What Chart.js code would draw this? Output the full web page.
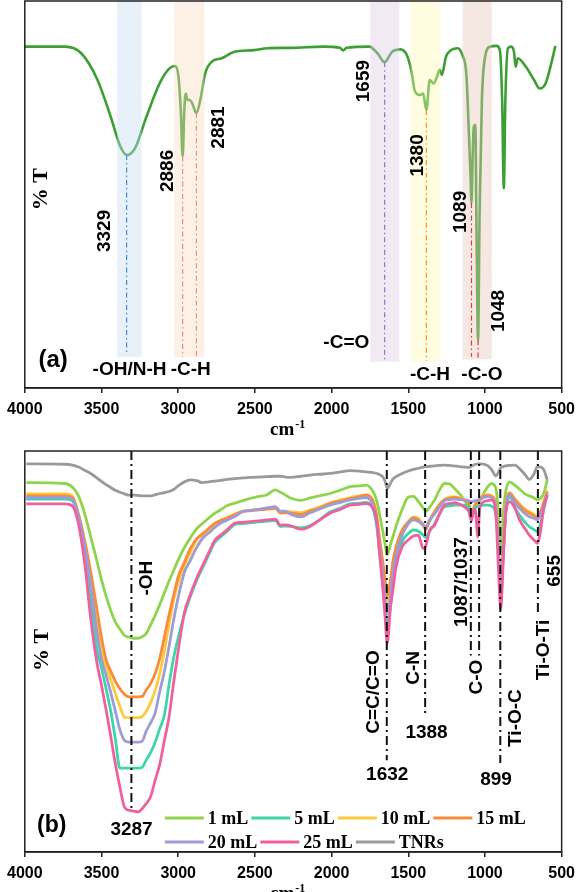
<!DOCTYPE html>
<html>
<head>
<meta charset="utf-8">
<script src="https://cdn.jsdelivr.net/npm/chart.js@4.4.1/dist/chart.umd.min.js"></script>
<style>
  html, body { margin: 0; padding: 0; background: #fff; }
  .panel { position: relative; width: 582px; }
  canvas { display: block; }
</style>
</head>
<body>
<div class="panel" style="height:440px"><canvas id="chartA" width="582" height="440"></canvas></div>
<div class="panel" style="height:452px"><canvas id="chartB" width="582" height="452"></canvas></div>
<script>
// Panel (a): single spectrum, wavenumber (cm-1) vs %T
const pvaWn = [4000, 3738, 3632, 3526, 3440, 3377, 3334, 3281, 3207, 3121, 3057, 3019, 2998, 2983, 2971, 2960,
  2951, 2939, 2926, 2909, 2881, 2856, 2824, 2781, 2717, 2632, 2505, 2420, 2264, 2052, 1945, 1924, 1902, 1754,
  1701, 1654, 1605, 1551, 1509, 1481, 1456, 1424, 1403, 1382, 1360, 1334, 1313, 1296, 1281, 1254, 1222, 1179,
  1147, 1120, 1105, 1094, 1088, 1080, 1073, 1063, 1055, 1045, 1035, 1020, 999, 967, 924, 903, 888, 877, 867,
  850, 829, 811, 800, 786, 733, 680, 643, 605, 562, 541];
const pvaT = [88.2, 88.2, 86.5, 79.6, 70.1, 62.4, 60.2, 62.0, 70.1, 78.7, 82.6, 83.2, 80.4, 71.8, 59.8, 71.8,
  76.1, 74.4, 74.4, 73.6, 71.0, 74.4, 81.3, 84.3, 85.2, 86.9, 87.3, 87.8, 87.9, 88.2, 87.9, 87.2, 87.9, 88.2,
  86.5, 84.2, 86.9, 87.5, 86.0, 82.2, 76.6, 75.7, 76.1, 71.8, 79.6, 78.7, 80.4, 82.2, 80.9, 85.6, 87.3, 87.8,
  86.0, 80.4, 65.9, 55.0, 47.8, 60.0, 67.5, 68.0, 40.0, 12.4, 45.0, 74.4, 85.6, 88.2, 88.4, 87.3, 74.4, 51.6, 74.4,
  87.8, 88.2, 86.9, 83.0, 85.2, 83.0, 79.6, 77.4, 78.7, 84.8, 88.4];

// Panel (b): shared wavenumber grid for all seven spectra
const tnrWn = [3990, 3740, 3690, 3650, 3610, 3570, 3530, 3500, 3470, 3440, 3410, 3380, 3350, 3320, 3290, 3260,
  3235, 3210, 3180, 3150, 3120, 3090, 3060, 3030, 3000, 2960, 2920, 2880, 2840, 2800, 2760, 2720, 2680, 2630,
  2580, 2530, 2480, 2420, 2366, 2334, 2300,
  2264, 2200, 2140, 2080, 2010, 1940, 1880, 1820, 1775, 1730, 1705, 1690, 1665, 1650, 1637, 1615, 1600, 1580,
  1540, 1500, 1466, 1434, 1403, 1386, 1360, 1328, 1300, 1264, 1230, 1200, 1168, 1136, 1105, 1088, 1073, 1062,
  1046, 1035, 1009, 980, 956, 928, 911, 897, 881, 864, 839, 804, 775, 740, 711, 680, 658, 637, 616, 594];

const seriesLabels = ['1 mL', '5 mL', '10 mL', '15 mL', '20 mL', '25 mL', 'TNRs'];

const t1mL = [92.1, 91.9, 91.0, 88.8, 84.4, 78.6, 72.6, 67.9, 63.8, 60.3, 57.4, 55.6, 54.0, 53.6, 53.3, 53.3,
  53.7, 54.4, 56.6, 59.0, 61.7, 64.6, 67.5, 70.2, 72.8, 75.9, 78.4, 80.6, 82.0, 83.3, 84.5, 85.4, 86.4, 87.0,
  87.6, 88.2, 88.6, 89.1, 90.3, 89.7, 89.0,
  88.2, 87.7, 88.3, 88.8, 89.4, 90.3, 91.1, 91.3, 91.5, 89.9, 87.5, 84.8, 79.8, 76.5, 74.1, 76.8, 78.6, 81.2,
  85.4, 88.5, 88.7, 87.4, 85.8, 85.0, 86.0, 87.8, 90.0, 91.9, 91.8, 90.7, 89.4, 87.9, 85.6, 83.8, 84.8, 85.6,
  87.0, 87.6, 89.4, 91.2, 91.9, 90.5, 84.0, 74.8, 84.0, 90.0, 92.3, 91.4, 90.5, 89.3, 88.8, 88.3, 87.8, 88.2, 89.5, 92.8];

const t5mL = [88.0, 88.0, 87.6, 83.1, 75.2, 63.3, 50.7, 45.9, 40.7, 35.2, 28.3, 20.9, 20.9, 20.9, 20.9, 20.9,
  21.1, 22.8, 24.8, 27.4, 30.8, 34.1, 41.7, 48.4, 53.4, 59.2, 63.8, 67.7, 71.0, 74.2, 77.3, 78.7, 80.0, 81.7,
  81.9, 82.1, 82.3, 82.5, 82.7, 81.2, 81.3,
  81.2, 80.8, 81.4, 82.8, 84.8, 85.8, 86.8, 87.0, 87.2, 85.5, 81.0, 76.0, 66.5, 60.5, 56.5, 61.5, 67.0, 71.5,
  77.4, 79.4, 80.3, 80.0, 79.0, 78.4, 80.0, 81.9, 84.0, 86.1, 86.3, 86.5, 86.5, 86.5, 86.0, 83.8, 85.2, 85.9,
  86.2, 86.3, 86.5, 86.5, 86.2, 84.0, 74.0, 63.0, 74.0, 84.5, 88.6, 85.8, 84.0, 82.3, 81.1, 80.4, 79.9, 82.0, 85.5, 89.0];

const t10mL = [89.3, 89.3, 88.8, 84.4, 77.4, 68.2, 57.8, 50.0, 46.4, 43.0, 39.6, 36.3, 33.6, 33.5, 33.5, 33.5,
  33.8, 35.0, 37.2, 40.3, 44.5, 50.0, 56.7, 62.7, 67.2, 71.5, 74.6, 77.8, 79.1, 80.5, 81.8, 82.8, 83.4, 84.3,
  85.0, 85.2, 85.4, 85.7, 85.9, 84.8, 84.9,
  84.9, 84.6, 85.3, 86.0, 87.1, 87.8, 88.4, 88.8, 89.1, 87.6, 83.5, 78.5, 71.0, 66.0, 62.5, 66.5, 71.5, 75.5,
  80.0, 82.2, 83.5, 83.2, 81.8, 81.0, 82.9, 85.0, 86.6, 88.0, 88.5, 88.6, 88.4, 88.0, 87.0, 83.6, 85.8, 86.8,
  87.6, 88.0, 89.0, 89.1, 88.8, 86.2, 75.0, 63.5, 75.2, 86.2, 89.6, 88.0, 86.8, 85.6, 84.9, 84.2, 83.6, 85.2, 87.6, 90.3];

const t15mL = [88.8, 88.8, 88.4, 84.1, 77.7, 69.8, 60.6, 53.5, 48.0, 45.1, 42.6, 40.7, 39.3, 38.7, 38.7, 38.7,
  38.8, 40.3, 42.0, 44.5, 48.3, 53.6, 59.0, 63.9, 68.6, 72.2, 75.7, 78.1, 79.4, 80.7, 82.0, 82.7, 83.3, 84.1,
  84.9, 85.1, 85.3, 85.5, 85.7, 84.5, 84.6,
  84.5, 84.2, 85.0, 85.7, 86.9, 87.5, 88.1, 88.6, 89.0, 87.5, 83.5, 79.0, 72.0, 67.5, 64.0, 68.0, 72.5, 76.0,
  80.3, 82.3, 83.4, 82.8, 81.4, 80.5, 82.6, 84.8, 86.3, 87.8, 88.2, 88.4, 88.2, 87.8, 86.8, 83.4, 85.6, 86.6,
  87.4, 87.8, 88.8, 88.9, 88.6, 86.0, 75.0, 63.5, 75.0, 86.0, 89.4, 87.8, 86.5, 85.2, 84.5, 83.8, 83.2, 84.8, 87.0, 89.8];

const t20mL = [88.4, 88.4, 88.0, 83.8, 76.4, 66.6, 55.0, 48.2, 44.1, 39.8, 35.2, 30.5, 27.8, 27.4, 27.4, 27.4,
  27.6, 30.0, 32.2, 34.7, 40.1, 45.0, 51.1, 57.8, 63.5, 69.7, 72.8, 75.9, 78.3, 79.6, 81.0, 82.1, 82.8, 83.7,
  84.9, 85.2, 85.4, 85.8, 86.1, 85.0, 85.0,
  84.2, 83.6, 84.6, 85.5, 86.5, 87.2, 87.8, 88.2, 88.4, 86.5, 82.0, 77.0, 68.0, 62.5, 59.5, 64.0, 69.5, 74.0,
  79.0, 81.8, 82.8, 82.4, 81.6, 81.1, 82.8, 84.3, 85.8, 87.6, 87.9, 88.0, 87.9, 87.8, 87.6, 87.3, 87.5, 87.6,
  87.7, 87.8, 88.4, 88.6, 88.3, 85.5, 74.5, 63.0, 74.5, 85.5, 89.0, 87.0, 85.7, 84.4, 83.6, 83.2, 82.8, 84.3, 86.8, 89.5];

const t25mL = [86.8, 86.8, 86.3, 81.8, 72.1, 58.2, 47.2, 41.6, 35.5, 28.9, 22.1, 16.2, 11.2, 10.4, 10.2, 10.0,
  10.8, 12.0, 13.8, 17.9, 21.9, 27.8, 33.6, 42.2, 50.1, 59.6, 64.3, 68.2, 71.5, 74.7, 77.8, 79.1, 80.4, 82.0,
  82.2, 82.4, 82.6, 82.8, 83.0, 81.5, 81.6,
  81.3, 80.5, 81.2, 82.7, 84.5, 85.5, 86.5, 86.7, 86.9, 85.7, 82.5, 75.5, 65.5, 58.0, 52.0, 61.5, 65.3, 71.1,
  76.1, 77.8, 78.8, 79.0, 75.7, 76.3, 80.3, 81.5, 84.0, 86.5, 86.9, 87.1, 86.8, 86.1, 84.9, 82.6, 85.5, 85.0,
  78.6, 85.5, 87.3, 87.6, 87.8, 83.6, 69.5, 60.5, 72.8, 84.5, 87.3, 85.7, 82.8, 80.7, 79.0, 77.8, 77.0, 80.3, 86.1, 89.0];

const tTNRs = [96.8, 96.7, 96.5, 96.0, 95.2, 94.4, 93.3, 92.4, 91.6, 90.9, 90.2, 89.7, 89.3, 89.0, 89.0, 88.9,
  88.8, 88.8, 88.8, 89.1, 89.4, 89.6, 89.9, 90.4, 91.3, 92.3, 92.8, 92.6, 92.1, 92.3, 92.5, 92.7, 92.9, 93.1,
  93.3, 93.4, 93.5, 93.6, 93.7, 93.7, 93.5,
  93.4, 93.7, 94.0, 94.2, 94.4, 94.8, 95.1, 95.0, 94.8, 94.6, 94.4, 94.2, 93.5, 92.3, 90.7, 92.0, 93.0, 93.6,
  94.4, 95.0, 95.4, 95.7, 96.0, 96.1, 96.2, 96.3, 96.4, 96.5, 96.4, 96.3, 96.1, 96.0, 95.9, 96.2, 96.5, 96.7,
  96.8, 96.8, 96.7, 96.3, 95.3, 93.8, 94.8, 95.8, 96.1, 96.3, 96.4, 96.5, 95.6, 94.2, 92.9, 94.3, 96.1, 96.0, 95.3, 92.8];

const xTicks = [4000, 3500, 3000, 2500, 2000, 1500, 1000, 500];

const sans = '"Liberation Sans", Arial, sans-serif';
const serif = '"Liberation Serif", "Times New Roman", serif';

const toPoints = (xs, ys) => xs.map((x, i) => ({ x: x, y: ys[i] }));

// shaded regions and peak markers of panel (a)
const bandsA = [
  { from: 3398, to: 3239, bottom: 8.0, color: 'rgba(198,218,243,0.4)' },
  { from: 3026, to: 2830, bottom: 8.0, color: 'rgba(250,218,188,0.4)' },
  { from: 1747, to: 1558, bottom: 6.8, color: 'rgba(220,203,230,0.4)' },
  { from: 1484, to: 1292, bottom: 6.8, color: 'rgba(253,250,178,0.4)' },
  { from: 1146, to: 956, bottom: 7.4, color: 'rgba(230,198,185,0.4)' }
];
const guidesA = [
  { wn: 3336, top: 60.2, bottom: 9.3, color: '#3d8fd9' },
  { wn: 2971, top: 59.8, bottom: 8.0, color: '#f28b82' },
  { wn: 2881, top: 71.0, bottom: 8.0, color: '#f28b82' },
  { wn: 1654, top: 84.2, bottom: 7.0, color: '#9b6fd0' },
  { wn: 1382, top: 71.8, bottom: 7.0, color: '#ff8c1a' },
  { wn: 1088, top: 47.8, bottom: 8.1, color: '#e8383d' },
  { wn: 1045, top: 12.4, bottom: 7.7, color: '#e8383d' }
];
const labelsA = [
  { text: '3329', wn: 3477, t: 40.6, rot: true },
  { text: '2886', wn: 3066, t: 56.1, rot: true },
  { text: '2881', wn: 2738, t: 67.3, rot: true },
  { text: '1659', wn: 1792, t: 79.3, rot: true },
  { text: '1380', wn: 1438, t: 60.1, rot: true },
  { text: '1089', wn: 1158, t: 45.5, rot: true },
  { text: '1048', wn: 908, t: 19.9, rot: true },
  { text: '-OH/N-H', wn: 3317, t: 4.7 },
  { text: '-C-H', wn: 2918, t: 4.7 },
  { text: '-C=O', wn: 1904, t: 11.6 },
  { text: '-C-H', wn: 1358, t: 3.4 },
  { text: '-C-O', wn: 1020, t: 3.4 },
  { text: '(a)', wn: 3815, t: 7.2, size: 24 },
  { text: '% T', wn: 3892, t: 51.4, rot: true, font: serif, size: 22 }
];

// peak markers of panel (b)
const guidesB = [
  { wn: 3305, top: 100, bottom: 11.0 },
  { wn: 1640, top: 100, bottom: 22.9 },
  { wn: 1390, top: 100, bottom: 33.7 },
  { wn: 1092, top: 100, bottom: 49.0 },
  { wn: 1038, top: 100, bottom: 49.0 },
  { wn: 900, top: 100, bottom: 22.2 },
  { wn: 655, top: 100, bottom: 59.1 }
];
const labelsB = [
  { text: '-OH', wn: 3208, t: 68.3, rot: true },
  { text: 'C=C/C=O', wn: 1726, t: 39.9, rot: true },
  { text: 'C-N', wn: 1464, t: 45.9, rot: true },
  { text: '1388', wn: 1381, t: 29.7 },
  { text: '1632', wn: 1637, t: 19.2 },
  { text: '1087/1037', wn: 1148, t: 67.3, rot: true },
  { text: 'C-O', wn: 1052, t: 43.6, rot: true },
  { text: 'Ti-O-C', wn: 797, t: 33.4, rot: true },
  { text: '899', wn: 928, t: 18.0 },
  { text: 'Ti-O-Ti', wn: 618, t: 50.4, rot: true },
  { text: '655', wn: 545, t: 70.1, rot: true },
  { text: '3287', wn: 3304, t: 5.5 },
  { text: '(b)', wn: 3824, t: 6.5, size: 23 },
  { text: '% T', wn: 3885, t: 50.4, rot: true, font: serif, size: 22 }
];

function drawText(ctx, lb, px, py) {
  ctx.save();
  ctx.font = 'bold ' + (lb.size || 19) + 'px ' + (lb.font || sans);
  ctx.fillStyle = '#000';
  ctx.textAlign = 'center';
  ctx.textBaseline = 'middle';
  ctx.translate(px, py);
  if (lb.rot) ctx.rotate(-Math.PI / 2);
  ctx.fillText(lb.text, 0, 0);
  ctx.restore();
}

// draws bands, guides, frame, labels, unit and legend
function makeDecor(cfg) {
  return {
    id: 'decor',
    afterDatasetsDraw(chart) {
      const ctx = chart.ctx, a = chart.chartArea, x = chart.scales.x, y = chart.scales.y;
      ctx.save();
      (cfg.bands || []).forEach(b => {
        const x1 = x.getPixelForValue(b.from), x2 = x.getPixelForValue(b.to);
        ctx.fillStyle = b.color;
        ctx.fillRect(x1, a.top, x2 - x1, y.getPixelForValue(b.bottom) - a.top);
      });
      (cfg.guides || []).forEach(g => {
        const px = x.getPixelForValue(g.wn);
        ctx.strokeStyle = g.color || cfg.guideColor;
        ctx.lineWidth = cfg.guideWidth;
        ctx.setLineDash(cfg.guideDash);
        ctx.beginPath();
        ctx.moveTo(px, y.getPixelForValue(g.top));
        ctx.lineTo(px, y.getPixelForValue(g.bottom));
        ctx.stroke();
      });
      ctx.restore();
    },
    afterDraw(chart) {
      const ctx = chart.ctx, a = chart.chartArea, x = chart.scales.x, y = chart.scales.y;
      ctx.save();
      ctx.strokeStyle = '#222';
      ctx.lineWidth = 1.5;
      ctx.strokeRect(a.left, a.top, a.right - a.left, a.bottom - a.top);

      (cfg.labels || []).forEach(lb => drawText(ctx, lb, x.getPixelForValue(lb.wn), y.getPixelForValue(lb.t)));

      // axis unit cm-1
      const cx = (a.left + a.right) / 2 - 3;
      ctx.fillStyle = '#000';
      ctx.font = 'bold 19px ' + serif;
      ctx.textAlign = 'right';
      ctx.textBaseline = 'alphabetic';
      ctx.fillText('cm', cx + 4, a.bottom + 47);
      ctx.font = 'bold 12px ' + serif;
      ctx.textAlign = 'left';
      ctx.fillText('-1', cx + 5, a.bottom + 40);

      if (cfg.legend) {
        const lg = cfg.legend;
        ctx.font = 'bold 18px ' + serif;
        ctx.textBaseline = 'middle';
        ctx.textAlign = 'left';
        lg.rows.forEach((row, r) => {
          let px = x.getPixelForValue(lg.wn);
          const py = y.getPixelForValue(lg.rowT[r]);
          row.forEach(i => {
            const ds = chart.data.datasets[i];
            ctx.strokeStyle = ds.borderColor;
            ctx.lineWidth = 3;
            ctx.setLineDash([]);
            ctx.beginPath();
            ctx.moveTo(px, py);
            ctx.lineTo(px + 39, py);
            ctx.stroke();
            ctx.fillStyle = '#000';
            ctx.fillText(ds.label, px + 43, py + 1);
            px += 43 + ctx.measureText(ds.label).width + 3;
          });
        });
      }
      ctx.restore();
    }
  };
}

function xAxis(axisHeight) {
  return {
    type: 'linear',
    reverse: true,
    min: 500,
    max: 4000,
    afterFit: s => { s.height = axisHeight; },
    afterBuildTicks: s => { s.ticks = xTicks.map(v => ({ value: v })); },
    border: { display: true, color: '#222', width: 1.5 },
    grid: { drawOnChartArea: false, drawTicks: true, tickLength: 5, color: '#222', lineWidth: 1.5 },
    ticks: { color: '#000', padding: 7, maxRotation: 0, autoSkip: false,
      callback: v => String(v),
      font: { family: sans, weight: 'bold', size: 16 } }
  };
}

const commonOpts = (axisHeight, padding) => ({
  responsive: false,
  animation: false,
  devicePixelRatio: 1,
  layout: { padding: padding },
  scales: { x: xAxis(axisHeight), y: { display: false, min: 0, max: 100 } },
  plugins: { legend: { display: false }, tooltip: { enabled: false } },
  elements: { point: { radius: 0 }, line: { cubicInterpolationMode: 'monotone' } }
});

new Chart(document.getElementById('chartA'), {
  type: 'line',
  data: {
    datasets: [{
      label: 'PVA',
      data: toPoints(pvaWn, pvaT),
      borderColor: '#3c9f34',
      borderWidth: 2.6,
      fill: false
    }]
  },
  options: commonOpts(52, { left: 19, right: 14, top: 1, bottom: 0 }),
  plugins: [makeDecor({
    bands: bandsA, guides: guidesA, labels: labelsA,
    guideWidth: 1.2, guideDash: [5, 3, 1.5, 3]
  })]
});

const colorsB = ['#8fd44a', '#3dd6a8', '#ffc93c', '#f98c3a', '#9d9bd8', '#f0609f', '#9a9a9a'];
const valuesB = [t1mL, t5mL, t10mL, t15mL, t20mL, t25mL, tTNRs];
const orderB = [5, 2, 4, 3, 1, 0, 6];

new Chart(document.getElementById('chartB'), {
  type: 'line',
  data: {
    datasets: seriesLabels.map((lab, i) => ({
      label: lab,
      data: toPoints(tnrWn, valuesB[i]),
      borderColor: colorsB[i],
      backgroundColor: colorsB[i],
      borderWidth: 2.8,
      fill: false,
      order: orderB[i]
    }))
  },
  options: commonOpts(40, { left: 20, right: 14, top: 11, bottom: 0 }),
  plugins: [makeDecor({
    guides: guidesB, labels: labelsB,
    guideColor: '#111', guideWidth: 2, guideDash: [9, 4, 2, 4],
    legend: { wn: 3087, rowT: [8.5, 2.5], rows: [[0, 1, 2, 3], [4, 5, 6]] }
  })]
});
</script>
</body>
</html>
